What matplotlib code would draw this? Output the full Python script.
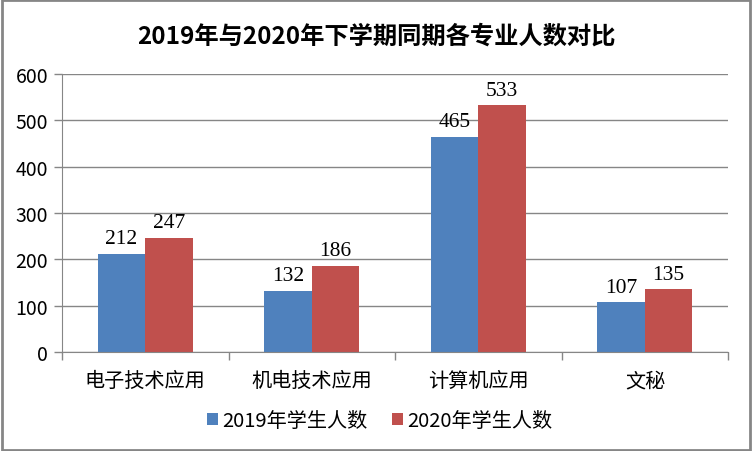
import matplotlib.pyplot as plt
import numpy as np
from matplotlib.patches import Rectangle

plt.rcParams['font.family'] = ['Noto Sans CJK SC', 'DejaVu Sans']

categories = ['电子技术应用', '机电技术应用', '计算机应用', '文秘']
students_2019 = [212, 132, 465, 107]
students_2020 = [247, 186, 533, 135]
series_names = ['2019年学生人数', '2020年学生人数']
title = '2019年与2020年下学期同期各专业人数对比'

blue = '#4F81BD'
red = '#C0504D'
gray = '#868686'

fig = plt.figure(figsize=(7.52, 4.52), dpi=100)
ax = fig.add_axes([0.0824, 0.219, 0.886, 0.615])

x = np.arange(len(categories))
w = 0.285
b1 = ax.bar(x - w / 2, students_2019, w, color=blue, label=series_names[0], zorder=3)
b2 = ax.bar(x + w / 2, students_2020, w, color=red, label=series_names[1], zorder=3)
for bars in (b1, b2):
    ax.bar_label(bars, padding=4, fontsize=15.5, family=['Liberation Serif', 'DejaVu Sans'])

ax.set_xlim(-0.5, len(categories) - 0.5)
ax.set_ylim(0, 600)
ax.set_yticks(range(0, 601, 100))
ax.yaxis.grid(True, color=gray, linewidth=1, zorder=0)
ax.set_xticks(x)
ax.set_xticklabels(categories, fontsize=14.5)
ax.set_xticks(np.arange(-0.5, len(categories)), minor=True)
ax.tick_params(axis='x', which='major', length=0, pad=13)
ax.tick_params(axis='x', which='minor', length=6, color=gray, width=1)
ax.tick_params(axis='y', length=6, color=gray, width=1, labelsize=14, pad=4)
for s in ['top', 'right']:
    ax.spines[s].set_visible(False)
for s in ['left', 'bottom']:
    ax.spines[s].set_color(gray)
    ax.spines[s].set_zorder(4)

fig.text(0.5, 0.918, title, ha='center', va='center', fontsize=17.5, fontweight='bold')
fig.legend(loc='center', bbox_to_anchor=(0.505, 0.067), ncol=2, frameon=False,
           fontsize=14.5, handlelength=0.55, handleheight=0.55, handletextpad=0.2,
           columnspacing=1.2)

fig.add_artist(Rectangle((0.002, 0.003), 0.996, 0.994, transform=fig.transFigure,
                         fill=False, edgecolor=gray, linewidth=2))

fig.savefig('out.png', dpi=100)
